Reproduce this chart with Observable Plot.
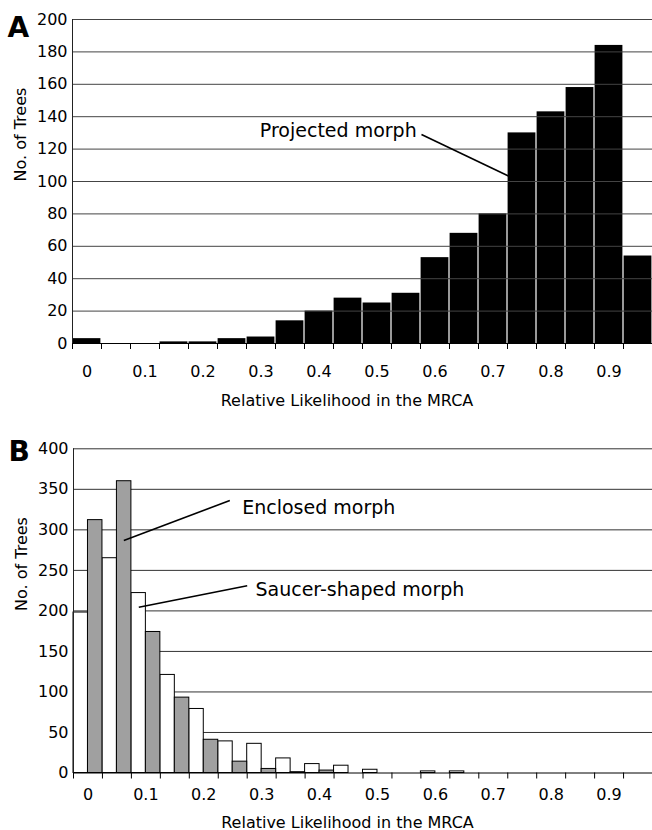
<!DOCTYPE html>
<html><head><meta charset="utf-8">
<script src="https://cdn.jsdelivr.net/npm/d3@7"></script>
<script src="https://cdn.jsdelivr.net/npm/@observablehq/plot@0.6"></script>
<style>
body{margin:0;background:#fff;}
#chart{width:652px;}
#chart svg{display:block;}
</style></head>
<body><div id="chart"></div>
<script>
// ---- data ----
const binCenters = [0, 0.05, 0.1, 0.15, 0.2, 0.25, 0.3, 0.35, 0.4, 0.45, 0.5, 0.55, 0.6, 0.65, 0.7, 0.75, 0.8, 0.85, 0.9, 0.95];
const projectedCounts = [3, 0, 0, 1, 1, 3, 4, 14, 20, 28, 25, 31, 53, 68, 80, 130, 143, 158, 184, 54];
const saucerCounts   = [198, 265, 222, 121, 79, 39, 36, 18, 11, 9, 4, 0, 2, 2, 0, 0, 0, 0, 0, 0];
const enclosedCounts = [312, 360, 174, 93, 41, 14, 5, 1, 3, 0, 0, 0, 0, 0, 0, 0, 0, 0, 0, 0];
const xTickValues = [0, 0.1, 0.2, 0.3, 0.4, 0.5, 0.6, 0.7, 0.8, 0.9];
const xTickLabels = ["0", "0.1", "0.2", "0.3", "0.4", "0.5", "0.6", "0.7", "0.8", "0.9"];
const yTicksA = [0, 20, 40, 60, 80, 100, 120, 140, 160, 180, 200];
const yTicksB = [0, 50, 100, 150, 200, 250, 300, 350, 400];
const xTitle = "Relative Likelihood in the MRCA";
const yTitle = "No. of Trees";
const panelLetters = ["A", "B"];
const annotationsA = [{x: 0.298, y: 127.3, text: "Projected morph"}];
const leadersA = [{x1: 0.5767, y1: 129, x2: 0.7284, y2: 103.1}];
const annotationsB = [
  {x: 0.2664, y: 319.8, text: "Enclosed morph"},
  {x: 0.2893, y: 219, text: "Saucer-shaped morph"}
];
const leadersB = [
  {x1: 0.245, y1: 336.2, x2: 0.0619, y2: 286.9},
  {x1: 0.275, y1: 231, x2: 0.0878, y2: 204.6}
];

// ---- derived tables ----
const binHalf = (binCenters[1] - binCenters[0]) / 2;
const xDomain = [binCenters[0] - binHalf, binCenters[binCenters.length - 1] + binHalf];
const binEdges = binCenters.map(c => c - binHalf);
const dataA = binCenters.map((c, i) => ({c, v: projectedCounts[i]})).filter(d => d.v > 0);
const dataSaucer = binCenters.map((c, i) => ({c, v: saucerCounts[i]})).filter(d => d.v > 0);
const dataEnclosed = binCenters.map((c, i) => ({c, v: enclosedCounts[i]})).filter(d => d.v > 0);

const font = "'DejaVu Sans', sans-serif";
const W = 652;

function commonAxes(yTicks, labelPad, titleDy, letter, letterDy) {
  return [
    Plot.ruleX([xDomain[0]], {y1: yTicks[0], y2: yTicks[yTicks.length - 1], stroke: "#222"}),
    Plot.axisY({ticks: yTicks, tickSize: 0, tickPadding: 5, label: null, fontSize: 16}),
    Plot.axisX({ticks: binEdges, tickSize: 6, tickFormat: () => "", label: null, stroke: "black"}),
    Plot.axisX({ticks: xTickValues, tickSize: 0, tickPadding: labelPad, tickFormat: (d, i) => xTickLabels[i], label: null, fontSize: 16}),
    Plot.text([xTitle], {frameAnchor: "bottom", text: d => d, dx: -15.5, dy: titleDy, lineAnchor: "bottom", fontSize: 16}),
    Plot.text([yTitle], {frameAnchor: "left", text: d => d, rotate: -90, dx: -47, lineAnchor: "bottom", fontSize: 16}),
    Plot.text([letter], {frameAnchor: "top-left", text: d => d, dx: -65, dy: letterDy, textAnchor: "start", lineAnchor: "bottom", fontSize: 28, fontWeight: "bold"})
  ];
}

const plotA = Plot.plot({
  width: W, height: 415,
  marginLeft: 72, marginRight: 0, marginTop: 19, marginBottom: 72,
  style: {fontFamily: font, fontSize: "16px", background: "white", color: "black", overflow: "visible"},
  x: {domain: xDomain},
  y: {domain: [0, 200]},
  marks: [
    Plot.rectY(dataA, {x1: d => d.c - binHalf, x2: d => d.c + binHalf, y: "v", fill: "black", insetLeft: 0.6, insetRight: 0.6}),
    Plot.gridY({ticks: yTicksA.slice(1), stroke: "#444", strokeOpacity: 1}),
    Plot.ruleY([0], {stroke: "black"}),
    Plot.link(leadersA, {x1: "x1", y1: "y1", x2: "x2", y2: "y2", stroke: "black", strokeWidth: 1.6}),
    Plot.text(annotationsA, {x: "x", y: "y", text: "text", textAnchor: "start", lineAnchor: "bottom", fontSize: 19}),
    ...commonAxes(yTicksA, 22, 62, panelLetters[0], 17)
  ]
});

const plotB = Plot.plot({
  width: W, height: 415,
  marginLeft: 73, marginRight: 0, marginTop: 33.3, marginBottom: 57.5,
  style: {fontFamily: font, fontSize: "16px", background: "white", color: "black", overflow: "visible"},
  x: {domain: xDomain},
  y: {domain: [0, 400]},
  marks: [
    Plot.gridY({ticks: yTicksB.slice(1), stroke: "#333", strokeOpacity: 1}),
    Plot.rectY(dataSaucer, {x1: d => d.c - binHalf, x2: d => d.c, y: "v", fill: "white", stroke: "black", strokeWidth: 1}),
    Plot.rectY(dataEnclosed, {x1: d => d.c, x2: d => d.c + binHalf, y: "v", fill: "#a0a0a0", stroke: "black", strokeWidth: 1}),
    Plot.ruleY([0], {stroke: "black"}),
    Plot.link(leadersB, {x1: "x1", y1: "y1", x2: "x2", y2: "y2", stroke: "black", strokeWidth: 1.6}),
    Plot.text(annotationsB, {x: "x", y: "y", text: "text", textAnchor: "start", lineAnchor: "bottom", fontSize: 19}),
    ...commonAxes(yTicksB, 16, 54.5, panelLetters[1], 11.7)
  ]
});

const chart = document.getElementById("chart");
chart.appendChild(plotA);
chart.appendChild(plotB);
</script>
</body></html>
